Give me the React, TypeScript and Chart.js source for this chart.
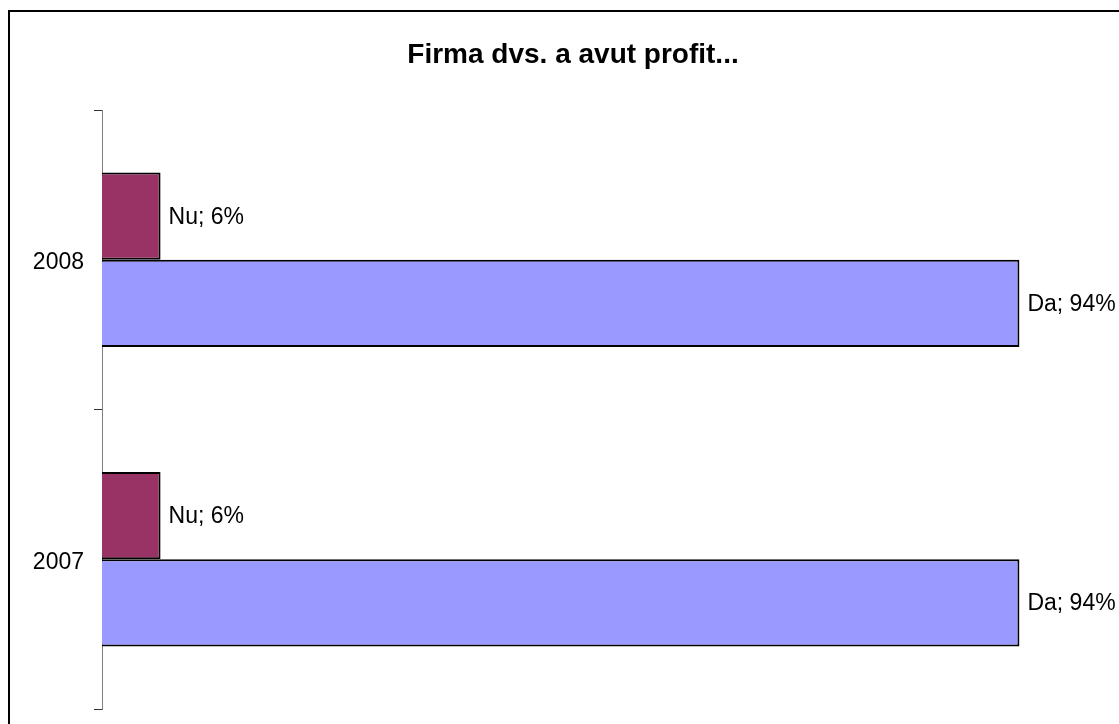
import React, { useEffect, useRef } from "react";
import { Chart, registerables } from "chart.js";

Chart.register(...registerables);

const categories = ["2008", "2007"];
const seriesNames = ["Nu", "Da"];
const nuValues = [6, 6];
const daValues = [94, 94];
const titleText = "Firma dvs. a avut profit...";

const FONT = "'Liberation Sans', Arial, sans-serif";

const framePlugin = {
  id: "frame",
  beforeDraw(chart: any) {
    const ctx = chart.ctx;
    ctx.save();
    ctx.fillStyle = "#ffffff";
    ctx.fillRect(0, 0, chart.width, chart.height);
    ctx.fillStyle = "#000000";
    ctx.fillRect(8, 10, chart.width, 2);
    ctx.fillRect(8, 10, 2, chart.height);
    // title
    ctx.font = `bold 28px ${FONT}`;
    ctx.textAlign = "center";
    ctx.textBaseline = "middle";
    ctx.fillText(titleText, 573, 55);
    ctx.restore();
  },
};

const labelPlugin = {
  id: "barLabels",
  afterDatasetsDraw(chart: any) {
    const ctx = chart.ctx;
    ctx.save();
    ctx.font = `23px ${FONT}`;
    ctx.fillStyle = "#000000";
    ctx.textAlign = "left";
    ctx.textBaseline = "middle";
    chart.data.datasets.forEach((ds: any, di: number) => {
      const meta = chart.getDatasetMeta(di);
      meta.data.forEach((el: any, i: number) => {
        ctx.fillText(`${ds.label}; ${ds.data[i]}%`, el.x + 8, el.y + 1);
      });
    });
    ctx.restore();
  },
};

export default function App() {
  const ref = useRef<HTMLCanvasElement | null>(null);
  useEffect(() => {
    if (!ref.current) return;
    const chart = new Chart(ref.current, {
      type: "bar",
      data: {
        labels: categories,
        datasets: [
          {
            label: seriesNames[0],
            data: nuValues,
            backgroundColor: "#993366",
            borderColor: "#000000",
            borderWidth: 2,
            categoryPercentage: 0.582,
            barPercentage: 1,
          },
          {
            label: seriesNames[1],
            data: daValues,
            backgroundColor: "#9999FF",
            borderColor: "#000000",
            borderWidth: 2,
            categoryPercentage: 0.582,
            barPercentage: 1,
          },
        ],
      },
      options: {
        indexAxis: "y",
        responsive: false,
        animation: false,
        layout: { padding: { left: 0, right: 41, top: 110, bottom: 15 } },
        plugins: {
          legend: { display: false },
          tooltip: { enabled: false },
          title: { display: false },
        },
        scales: {
          x: { display: false, min: 0, max: 100 },
          y: {
            type: "category",
            offset: true,
            afterFit(scale: any) {
              scale.width = 102;
              scale.paddingTop = 0;
              scale.paddingBottom = 0;
            },
            grid: {
              offset: true,
              drawOnChartArea: false,
              drawTicks: true,
              tickLength: 8,
              color: "#333333",
            },
            border: { display: true, color: "#808080", width: 1 },
            ticks: {
              color: "#000000",
              padding: 10,
              labelOffset: 3,
              font: { family: FONT, size: 23 },
            },
          },
        },
      } as any,
      plugins: [framePlugin, labelPlugin],
    });
    return () => chart.destroy();
  }, []);
  return (
    <div style={{ position: "absolute", left: 0, top: 0, width: 1119, height: 724, overflow: "hidden", background: "#fff" }}>
      <canvas ref={ref} width={1119} height={724} style={{ display: "block" }} />
    </div>
  );
}
